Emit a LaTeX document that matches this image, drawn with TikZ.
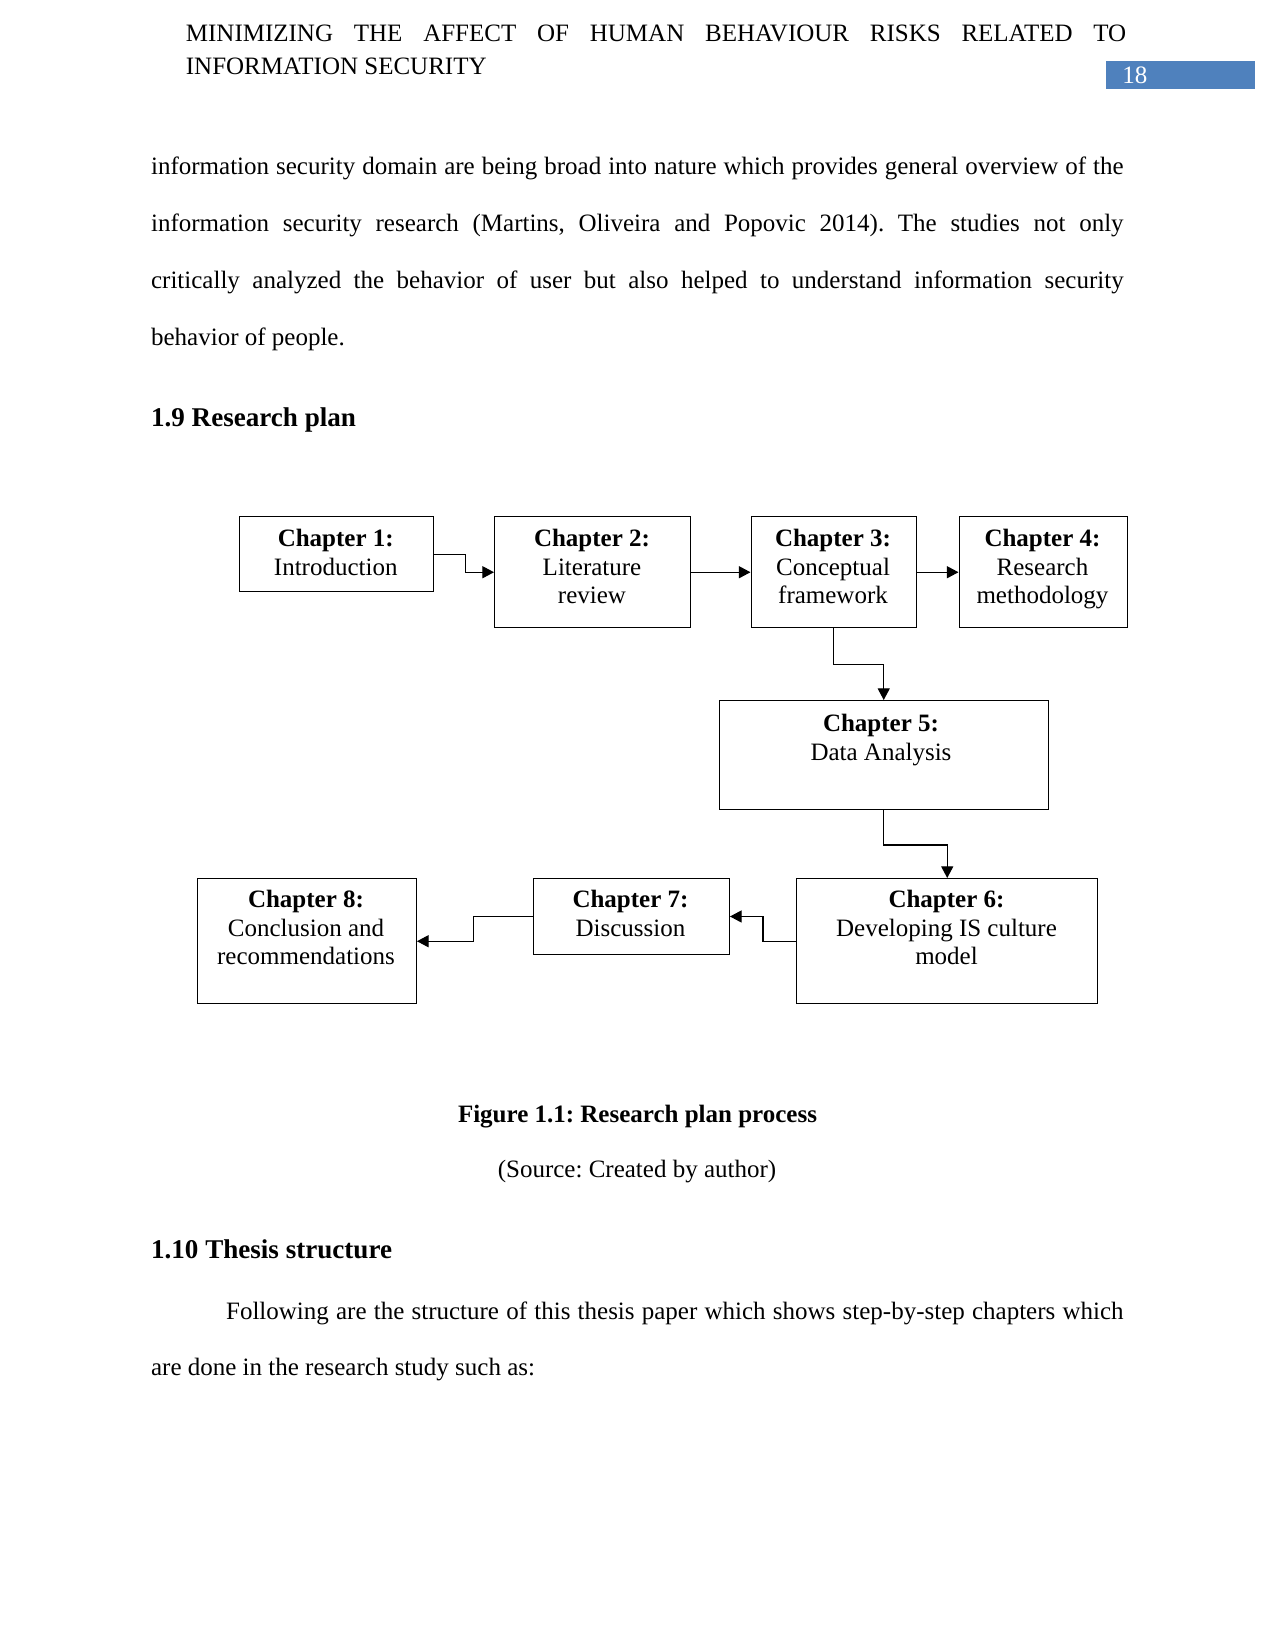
\documentclass[tikz,border=0pt]{standalone}
\usepackage{fontspec}
\setmainfont{Liberation Serif}
\usetikzlibrary{arrows.meta}
\definecolor{pageblue}{RGB}{79,129,189}
\frenchspacing
\begin{document}
\begin{tikzpicture}[x=0.48pt,y=-0.48pt,
  chbox/.style 2 args={draw, line width=0.7pt, inner sep=0, anchor=north west,
    minimum width=#1*0.48pt, minimum height=#2*0.48pt},
  btext/.style={inner sep=0, anchor=base, align=flush center, text width=#1*0.48pt,
    font=\fontsize{12}{13.7}\selectfont},
  conn/.style={line width=0.6pt, -{Triangle[length=5.6pt,width=5.8pt]}},
  txt/.style={inner sep=0, anchor=base west, font=\fontsize{12}{14}\selectfont},
  head/.style={inner sep=0, anchor=base west, font=\fontsize{13}{15}\selectfont\bfseries}
]
\frenchspacing
\useasboundingbox (0,0) rectangle (1275,1651);

% running header
\node[txt] (h1) at (185.5,41.5) {\makebox[451.4pt][s]{MINIMIZING THE AFFECT OF HUMAN BEHAVIOUR RISKS RELATED TO}};
\node[txt] (h2) at (185.5,74.2) {INFORMATION SECURITY};
\fill[pageblue] (1105.5,61) rectangle (1255,89);
\node[txt, text=white] (pg) at (1122,83.3) {18};

% body paragraph
\node[txt] (p1) at (150.7,174.5) {\makebox[466.8pt][s]{information security domain are being broad into nature which provides general overview of the}};
\node[txt] (p2) at (150.7,231.2) {\makebox[466.8pt][s]{information security research (Martins, Oliveira and Popovic 2014). The studies not only}};
\node[txt] (p3) at (150.7,288.5) {\makebox[466.8pt][s]{critically analyzed the behavior of user but also helped to understand information security}};
\node[txt] (p4) at (150.7,345.2) {behavior of people.};

\node[head] (s19) at (150.7,426.5) {1.9 Research plan};

% boxes
\node[chbox={194.5}{75}]  (c1) at (238.5,516) {};
\node[chbox={196}{111}]   (c2) at (494,516) {};
\node[chbox={165}{111}]   (c3) at (750.5,516) {};
\node[chbox={168}{111}]   (c4) at (958.5,516) {};
\node[chbox={329}{108.5}] (c5) at (718.5,700) {};
\node[chbox={301}{125}]   (c6) at (796,878) {};
\node[chbox={196}{75.5}]  (c7) at (532.5,878) {};
\node[chbox={219}{125}]   (c8) at (196.5,878) {};

% box texts
\node[btext=190] (t1) at (335.75,546.5) {\textbf{Chapter 1:}\\Introduction};
\node[btext=190] (t2) at (592,546.5) {\textbf{Chapter 2:}\\Literature\\review};
\node[btext=160] (t3) at (833,546.5) {\textbf{Chapter 3:}\\Conceptual\\framework};
\node[btext=164] (t4) at (1042.5,546.5) {\textbf{Chapter 4:}\\Research\\methodology};
\node[btext=320] (t5) at (881,731.5) {\textbf{Chapter 5:}\\Data Analysis};
\node[btext=296] (t6) at (946.5,907.5) {\textbf{Chapter 6:}\\Developing IS culture\\model};
\node[btext=190] (t7) at (630.5,907.5) {\textbf{Chapter 7:}\\Discussion};
\node[btext=215] (t8) at (306,907.5) {\textbf{Chapter 8:}\\Conclusion and\\recommendations};

% connectors
\draw[conn] (c1.east) -- ++(31.3,0) |- (c2.west);
\draw[conn] (c2.east) -- (c3.west);
\draw[conn] (c3.east) -- (c4.west);
\draw[conn] (c3.south) -- ++(0,36.3) -| (c5.north);
\draw[conn] (c5.south) -- ++(0,35) -| (c6.north);
\draw[conn] (c6.west) -- ++(-33,0) |- (c7.east);
\draw[conn] (c7.west) -- ++(-58.7,0) |- (c8.east);

% caption
\node[inner sep=0, anchor=base, font=\fontsize{12}{14}\selectfont\bfseries] (cap) at (637.5,1122) {Figure 1.1: Research plan process};
\node[inner sep=0, anchor=base, font=\fontsize{12}{14}\selectfont] (src) at (637,1177.5) {(Source: Created by author)};

\node[head] (s110) at (150.7,1258.8) {1.10 Thesis structure};
\node[txt] (q1) at (225.7,1319.5) {\makebox[430.8pt][s]{Following are the structure of this thesis paper which shows step-by-step chapters which}};
\node[txt] (q2) at (150.7,1375.5) {are done in the research study such as:};
\end{tikzpicture}
\end{document}
